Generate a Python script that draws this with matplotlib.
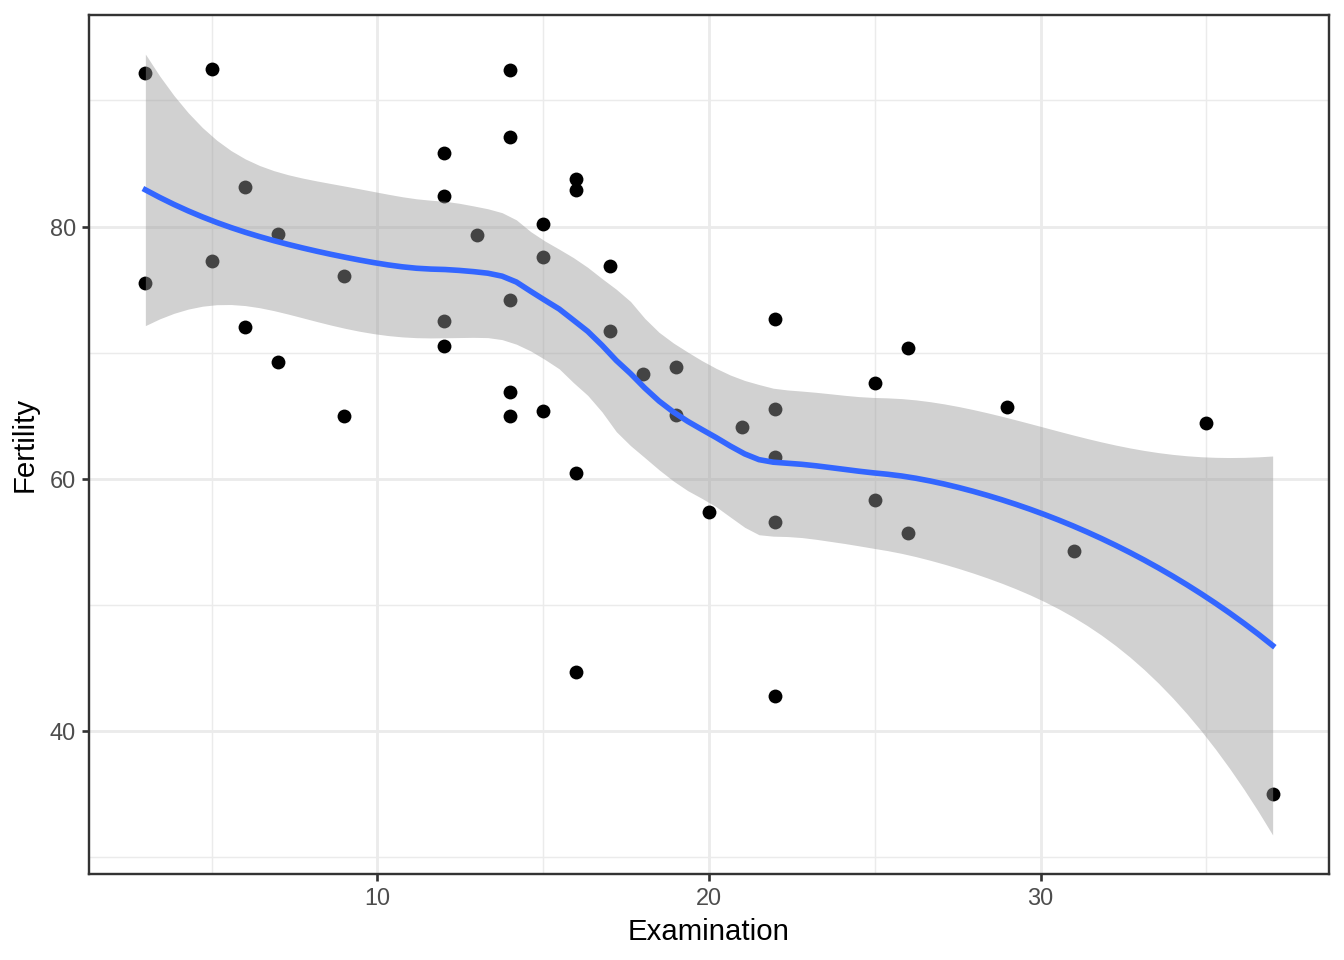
"""
Streudiagramm Fertility gegen Examination (swiss-Daten) mit LOESS-Glaettung
und 95%-Konfidenzband, im Stil von ggplot2 theme_bw.
"""

import math
import numpy as np
import matplotlib
matplotlib.use("Agg")
import matplotlib.pyplot as plt

# Daten (47 Bezirke)
examination = [15, 6, 5, 12, 17, 9, 16, 14, 12, 16, 14, 21, 14, 19, 22, 18,
               17, 26, 31, 19, 22, 14, 22, 20, 12, 14, 6, 16, 25, 15, 3, 7,
               5, 12, 7, 9, 3, 13, 26, 29, 22, 35, 15, 25, 37, 16, 22]
fertility = [80.2, 83.1, 92.5, 85.8, 76.9, 76.1, 83.8, 92.4, 82.4, 82.9,
             87.1, 64.1, 66.9, 68.9, 61.7, 68.3, 71.7, 55.7, 54.3, 65.1,
             65.5, 65.0, 56.6, 57.4, 72.5, 74.2, 72.0, 60.5, 58.3, 65.4,
             75.5, 69.3, 77.3, 70.5, 79.4, 65.0, 92.2, 79.3, 70.4, 65.7,
             72.7, 64.4, 77.6, 67.6, 35.0, 44.7, 42.8]

x_ticks = [10, 20, 30]
y_ticks = [40, 60, 80]


def loess_zeilen(x, x0, span=0.75):
    """Gewichtsvektoren der lokalen quadratischen Regression (tricube)."""
    n = len(x)
    q = int(math.floor(n * span))
    zeilen = []
    for p in x0:
        d = np.abs(x - p)
        h = np.sort(d)[q - 1] * 1.0001
        w = np.clip(1 - (d / h) ** 3, 0, None) ** 3
        X = np.column_stack([np.ones(n), x - p, (x - p) ** 2])
        XtW = X.T * w
        zeilen.append(np.linalg.solve(XtW @ X, XtW)[0])
    return np.array(zeilen)


def t_quantil(prob, df):
    """t-Quantil per Bisektion ueber numerische Integration der Dichte."""
    c = math.exp(math.lgamma((df + 1) / 2) - math.lgamma(df / 2)) / math.sqrt(df * math.pi)

    def cdf(t):
        s = np.linspace(0, t, 4001)
        f = c * (1 + s ** 2 / df) ** (-(df + 1) / 2)
        return 0.5 + np.trapezoid(f, s)

    lo, hi = 0.0, 10.0
    for _ in range(60):
        mid = (lo + hi) / 2
        if cdf(mid) < prob:
            lo = mid
        else:
            hi = mid
    return (lo + hi) / 2


x = np.array(examination, dtype=float)
y = np.array(fertility, dtype=float)

# LOESS wie geom_smooth (span 0.75, Grad 2)
L = loess_zeilen(x, x)
res = y - L @ y
M = (np.eye(len(x)) - L).T @ (np.eye(len(x)) - L)
delta1 = np.trace(M)
delta2 = np.trace(M @ M)
sigma = math.sqrt(np.sum(res ** 2) / delta1)
df_t = delta1 ** 2 / delta2

xs = np.linspace(x.min(), x.max(), 80)
Ls = loess_zeilen(x, xs)
fit = Ls @ y
se = sigma * np.sqrt(np.sum(Ls ** 2, axis=1))
tq = t_quantil(0.975, df_t)
ymin = fit - tq * se
ymax = fit + tq * se

plt.rcParams["font.family"] = ["Liberation Sans", "DejaVu Sans"]

fig = plt.figure(figsize=(7, 5), dpi=192)
ax = fig.add_axes([89 / 1344, 1 - 874 / 960, (1329 - 89) / 1344, (874 - 15) / 960])

# Punkte zuerst, Band darueber (wie ggplot)
ax.scatter(x, y, s=27, color="black", linewidths=0, zorder=2)
ax.fill_between(xs, ymin, ymax, color="#999999", alpha=0.45, linewidth=0, zorder=3)
ax.plot(xs, fit, color="#3366FF", linewidth=2.1, zorder=4)

# Achsenbereiche mit 5% Erweiterung
x_lo, x_hi = x.min(), x.max()
y_lo = min(y.min(), ymin.min())
y_hi = max(y.max(), ymax.max())
ax.set_xlim(x_lo - 0.05 * (x_hi - x_lo), x_hi + 0.05 * (x_hi - x_lo))
ax.set_ylim(y_lo - 0.05 * (y_hi - y_lo), y_hi + 0.05 * (y_hi - y_lo))

# Gitter
ax.set_xticks(x_ticks)
ax.set_yticks(y_ticks)
ax.set_xticks([5, 15, 25, 35], minor=True)
ax.set_yticks([30, 50, 70, 90], minor=True)
ax.grid(which="major", color="#EBEBEB", linewidth=1.07, zorder=0)
ax.grid(which="minor", color="#EBEBEB", linewidth=0.53, zorder=0)
ax.set_axisbelow(True)

for sp in ax.spines.values():
    sp.set_color("#333333")
    sp.set_linewidth(0.9)

ax.tick_params(which="major", length=2.75, width=1.0, color="#333333",
               labelsize=8.8, labelcolor="#4D4D4D", pad=2.2)
ax.tick_params(which="minor", length=0)

ax.set_xlabel("Examination", fontsize=11, labelpad=3)
ax.set_ylabel("Fertility", fontsize=11, labelpad=4)

fig.savefig("out.png", dpi=192)
